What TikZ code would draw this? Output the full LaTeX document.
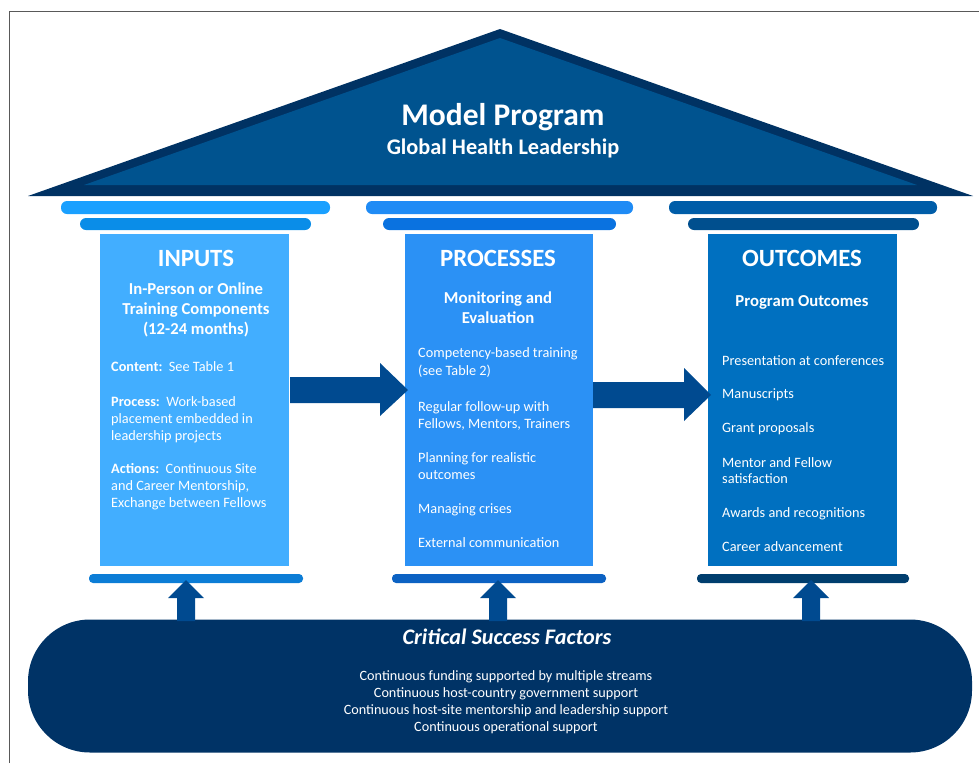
\documentclass[tikz,border=0pt]{standalone}
\usepackage{fontspec}
\setmainfont{Carlito}
\usetikzlibrary{calc}
\definecolor{roofdark}{HTML}{003263}
\definecolor{roofin}{HTML}{00538F}
\definecolor{aTop}{HTML}{1AA0FF}
\definecolor{aSec}{HTML}{0A8DE8}
\definecolor{aBody}{HTML}{42AEFF}
\definecolor{aBase}{HTML}{0C7DD6}
\definecolor{bTop}{HTML}{1F8BF5}
\definecolor{bSec}{HTML}{0A72E0}
\definecolor{bBody}{HTML}{2B91F5}
\definecolor{bBase}{HTML}{0C62C3}
\definecolor{cTop}{HTML}{005DA8}
\definecolor{cSec}{HTML}{004F8E}
\definecolor{cBody}{HTML}{0070C0}
\definecolor{cBase}{HTML}{003E6E}
\definecolor{arrowc}{HTML}{004A90}
\definecolor{csfc}{HTML}{003366}
\begin{document}
\begin{tikzpicture}[x=1pt,y=-1pt,
  txt/.style={text=white,inner sep=0pt},
  head/.style={txt,font=\fontsize{24.8}{27}\selectfont\bfseries},
  sub/.style={txt,align=center,font=\fontsize{16.7}{20}\selectfont\bfseries},
  body/.style={txt,anchor=base west,font=\fontsize{14.3}{17}\selectfont},
  bar/.style={rounded corners=6pt},
  colbody/.style={anchor=north west,inner sep=0pt,minimum width=189,minimum height=332},
  blk/.style={fill=arrowc}]
\useasboundingbox (0,0) rectangle (979,763);
\draw[black!65, line width=1pt] (9,763) -- (9,11) -- (979,11);
% roof
\fill[roofdark] (28,196) -- (500,29) -- (973,196) -- cycle;
\fill[roofin] (84,185) -- (500,38) -- (917,185) -- cycle;
\node[txt,font=\fontsize{31.5}{34}\selectfont\bfseries] (title) at (503,117) {Model Program};
\node[txt,font=\fontsize{22.3}{25}\selectfont\bfseries] (subtitle) at (503,148) {Global Health Leadership};
% capitals
\fill[aTop,bar] (61,201) rectangle (330,214);
\fill[aSec,bar] (80,218) rectangle (311,230);
\fill[bTop,bar] (366,201) rectangle (633,214);
\fill[bSec,bar] (383,218) rectangle (616,230);
\fill[cTop,bar] (669,201) rectangle (937,214);
\fill[cSec,bar] (688,218) rectangle (919,230);
% bodies
\node[colbody,fill=aBody] (in) at (100,234) {};
\node[colbody,fill=bBody,minimum width=188] (pr) at (405,234) {};
\node[colbody,fill=cBody] (out) at (708,234) {};
% bases
\fill[aBase,bar,rounded corners=4pt] (89,574) rectangle (303,583);
\fill[bBase,bar,rounded corners=4pt] (392,574) rectangle (606,583);
\fill[cBase,bar,rounded corners=4pt] (697,574) rectangle (909,583);
% INPUTS
\node[head] (inH) at (196,258) {INPUTS};
\node[sub] (inS) at (196,310) {In-Person or Online\\Training Components\\(12-24 months)};
\node[body] (i1) at (111,371) {\textbf{Content:}\ \ See Table 1};
\node[body] (i2) at (111,406) {\textbf{Process:}\ \ Work-based};
\node[body] (i3) at (111,423) {placement embedded in};
\node[body] (i4) at (111,440) {leadership projects};
\node[body] (i5) at (111,473) {\textbf{Actions:}\ \ Continuous Site};
\node[body] (i6) at (111,490) {and Career Mentorship,};
\node[body] (i7) at (111,507) {Exchange between Fellows};
% PROCESSES
\node[head] (prH) at (498,258) {PROCESSES};
\node[sub] (prS) at (498,308) {Monitoring and\\Evaluation};
\node[body] (p1) at (418,357) {Competency-based training};
\node[body] (p2) at (418,375) {(see Table 2)};
\node[body] (p3) at (418,411) {Regular follow-up with};
\node[body] (p4) at (418,428) {Fellows, Mentors, Trainers};
\node[body] (p5) at (418,462) {Planning for realistic};
\node[body] (p6) at (418,479) {outcomes};
\node[body] (p7) at (418,513) {Managing crises};
\node[body] (p8) at (418,547) {External communication};
% OUTCOMES
\node[head] (ouH) at (802,258) {OUTCOMES};
\node[sub] (ouS) at (802,302) {Program Outcomes};
\node[body] (o1) at (722,365) {Presentation at conferences};
\node[body] (o2) at (722,398) {Manuscripts};
\node[body] (o3) at (722,432) {Grant proposals};
\node[body] (o4) at (722,467) {Mentor and Fellow};
\node[body] (o5) at (722,483) {satisfaction};
\node[body] (o6) at (722,517) {Awards and recognitions};
\node[body] (o7) at (722,551) {Career advancement};
% horizontal block arrows
\fill[blk] (290,377) -- (380,377) -- (380,363) -- (408,390) -- (380,416) -- (380,403) -- (290,403) -- cycle;
\fill[blk] (593,382) -- (684,382) -- (684,368) -- (711,395) -- (684,421) -- (684,408) -- (593,408) -- cycle;
% critical success factors
\node[fill=csfc,rounded corners=62pt,minimum width=944,minimum height=133,inner sep=0pt] (csf) at (500,686) {};
\node[txt,font=\fontsize{22.2}{26}\selectfont\bfseries\itshape] (csfH) at (507,637) {Critical Success Factors};
\node[txt,align=center,font=\fontsize{14.2}{17}\selectfont] (csfT) at (506,702) {Continuous funding supported by multiple streams\\Continuous host-country government support\\Continuous host-site mentorship and leadership support\\Continuous operational support};
% up arrows
\foreach \cx/\nm in {186/ua,498/ub,811/uc}{
  \fill[blk] (\cx-9,621) -- (\cx-9,598) -- (\cx-18,598) -- (\cx,580) -- (\cx+18,598) -- (\cx+9,598) -- (\cx+9,621) -- cycle;
}
\end{tikzpicture}
\end{document}
